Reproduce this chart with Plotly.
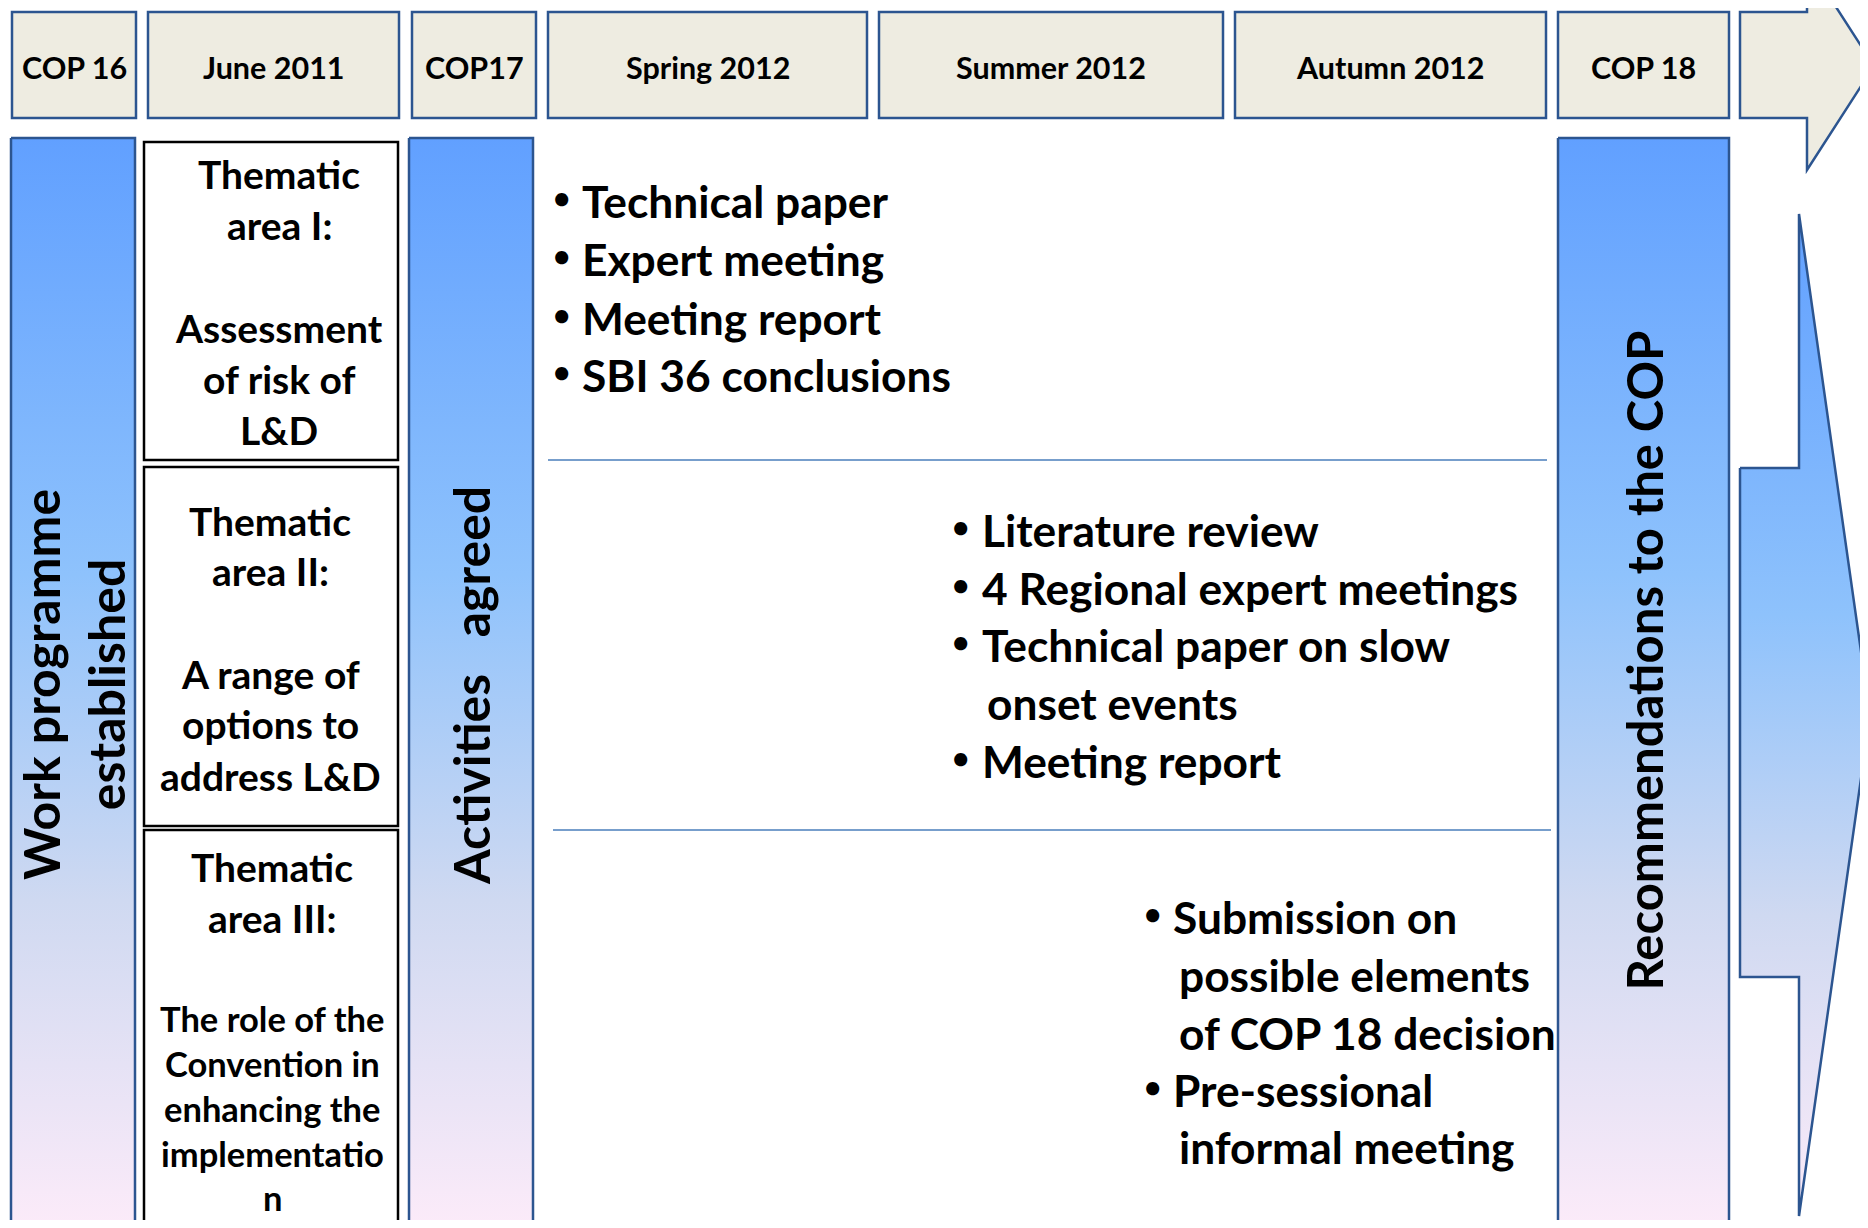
import plotly.graph_objects as go

W, H = 1868, 1228
PAGE_MARGIN = 8  # default body margin of the html page
FONT = "Lato"
DARK_BLUE = "#2c5590"
HEADER_FILL = "#eeece1"
GRAD = [[0.0, "#61a0ff"], [0.4, "#8ec2fc"], [0.7, "#cfd9f1"], [1.0, "#fcebf9"]]

# --- header timeline ---
header_labels = ["COP 16", "June 2011", "COP17", "Spring 2012", "Summer 2012", "Autumn 2012", "COP 18"]
header_x0 = [12, 148, 412, 548, 879, 1235, 1558]
header_x1 = [136, 399, 536, 867, 1223, 1546, 1729]
HEADER_Y0, HEADER_Y1 = 12, 118

# --- vertical gradient bars ---
bar_labels = ["Work programme<br>established", "Activities\u00a0\u00a0\u00a0agreed", "Recommendations to the COP"]
bar_x0 = [11, 409, 1558]
bar_x1 = [135, 533, 1729]
BAR_TOP, BAR_BOT = 138, 1240
bar_text_y = [685, 686, 661]
bar_text_size = [50, 50, 49]

# --- thematic area boxes ---
theme_x0, theme_x1 = 144, 398
theme_y0 = [142, 467, 830]
theme_y1 = [460, 826, 1226]
theme_text_x = [279, 270, 272]
theme_lines = [
    ["Thematic", "area I:", "Assessment", "of risk of", "L&D"],
    ["Thematic", "area II:", "A range of", "options to", "address L&D"],
    ["Thematic", "area III:", "The role of the", "Convention in", "enhancing the", "implementatio", "n"],
]
theme_line_y = [
    [174, 225, 328, 379, 430],
    [521, 571, 674, 724, 776],
    [867, 918, 1018, 1063, 1108, 1153, 1197],
]
theme_line_size = [
    [39, 39, 39, 39, 39],
    [39, 39, 39, 39, 39],
    [39, 39, 34.5, 34.5, 34.5, 34.5, 34.5],
]

# --- activity bullet lists ---
activity_lines = [
    [("Technical paper", True), ("Expert meeting", True), ("Meeting report", True), ("SBI 36 conclusions", True)],
    [("Literature review", True), ("4 Regional expert meetings", True), ("Technical paper on slow", True),
     ("onset events", False), ("Meeting report", True)],
    [("Submission on", True), ("possible elements", False), ("of COP 18 decision", False),
     ("Pre-sessional", True), ("informal meeting", False)],
]
activity_y = [
    [200, 258, 317, 374],
    [529, 587, 644, 702, 760],
    [916, 974, 1032, 1089, 1146],
]
bullet_x = [561, 960, 1152]
text_x = [580, 980, 1171]
cont_x = [580, 985, 1177]
TEXT_SIZE = 44.3
BULLET_SIZE = 30

separators = [((548, 460), (1547, 460)), ((553, 830), (1551, 830))]

fig = go.Figure()
shapes = []
annotations = []

# top arrow (beige)
shapes.append(dict(
    type="path",
    path="M 1740 12 L 1807 12 L 1807 -38 L 1874 66 L 1807 170 L 1807 118 L 1740 118 Z",
    fillcolor=HEADER_FILL, line=dict(color=DARK_BLUE, width=2.5), layer="above"))

# big gradient arrow
arrow_x = [1740, 1799, 1799, 1870, 1799, 1799, 1740, 1740]
arrow_y = [468, 468, 214, 715, 1216, 977, 977, 468]
fig.add_trace(go.Scatter(
    x=arrow_x, y=arrow_y, mode="lines", fill="toself",
    line=dict(color=DARK_BLUE, width=2.5),
    fillgradient=dict(type="vertical", colorscale=GRAD, start=214, stop=1216),
    hoverinfo="skip", showlegend=False))

# gradient bars
for x0, x1 in zip(bar_x0, bar_x1):
    fig.add_trace(go.Scatter(
        x=[x0, x1, x1, x0, x0], y=[BAR_TOP, BAR_TOP, BAR_BOT, BAR_BOT, BAR_TOP],
        mode="lines", fill="toself", line=dict(color=DARK_BLUE, width=2.5),
        fillgradient=dict(type="vertical", colorscale=GRAD, start=BAR_TOP, stop=1228),
        hoverinfo="skip", showlegend=False))

for lbl, x0, x1, ty, sz in zip(bar_labels, bar_x0, bar_x1, bar_text_y, bar_text_size):
    annotations.append(dict(
        x=(x0 + x1) / 2, y=ty, text=lbl, textangle=-90, showarrow=False,
        xanchor="center", yanchor="middle",
        font=dict(family=FONT, size=sz, color="black", weight="bold")))

# header boxes
for lbl, x0, x1 in zip(header_labels, header_x0, header_x1):
    shapes.append(dict(type="rect", x0=x0, x1=x1, y0=HEADER_Y0, y1=HEADER_Y1,
                       fillcolor=HEADER_FILL, line=dict(color=DARK_BLUE, width=2.5)))
    annotations.append(dict(x=(x0 + x1) / 2, y=(HEADER_Y0 + HEADER_Y1) / 2 + 2, text=lbl,
                            showarrow=False, xanchor="center", yanchor="middle",
                            font=dict(family=FONT, size=30.5, color="black", weight="bold")))

# thematic boxes
for i in range(3):
    shapes.append(dict(type="rect", x0=theme_x0, x1=theme_x1, y0=theme_y0[i], y1=theme_y1[i],
                       fillcolor="white", line=dict(color="black", width=2.5)))
    for txt, yy, sz in zip(theme_lines[i], theme_line_y[i], theme_line_size[i]):
        annotations.append(dict(x=theme_text_x[i], y=yy, text=txt, showarrow=False,
                                xanchor="center", yanchor="middle",
                                font=dict(family=FONT, size=sz, color="black", weight="bold")))

# separators
for (p0, p1) in separators:
    shapes.append(dict(type="line", x0=p0[0], y0=p0[1], x1=p1[0], y1=p1[1],
                       line=dict(color="#4a7ebb", width=1.5)))

# bullet lists
for k in range(3):
    for (txt, has_bullet), yy in zip(activity_lines[k], activity_y[k]):
        if has_bullet:
            annotations.append(dict(x=bullet_x[k], y=yy - 3, text="•", showarrow=False,
                                    xanchor="center", yanchor="middle",
                                    font=dict(family=FONT, size=BULLET_SIZE, color="black", weight="bold")))
            xx = text_x[k]
        else:
            xx = cont_x[k]
        annotations.append(dict(x=xx, y=yy, text=txt, showarrow=False,
                                xanchor="left", yanchor="middle",
                                font=dict(family=FONT, size=TEXT_SIZE, color="black", weight="bold")))

fig.update_layout(
    width=W - 2 * PAGE_MARGIN, height=H - 2 * PAGE_MARGIN, margin=dict(l=0, r=0, t=0, b=0),
    paper_bgcolor="white", plot_bgcolor="white",
    xaxis=dict(range=[PAGE_MARGIN, W - PAGE_MARGIN], visible=False, fixedrange=True),
    yaxis=dict(range=[H - PAGE_MARGIN, PAGE_MARGIN], visible=False, fixedrange=True),
    shapes=shapes, annotations=annotations, showlegend=False,
)

fig.write_html("out.html", config={"displayModeBar": False})
